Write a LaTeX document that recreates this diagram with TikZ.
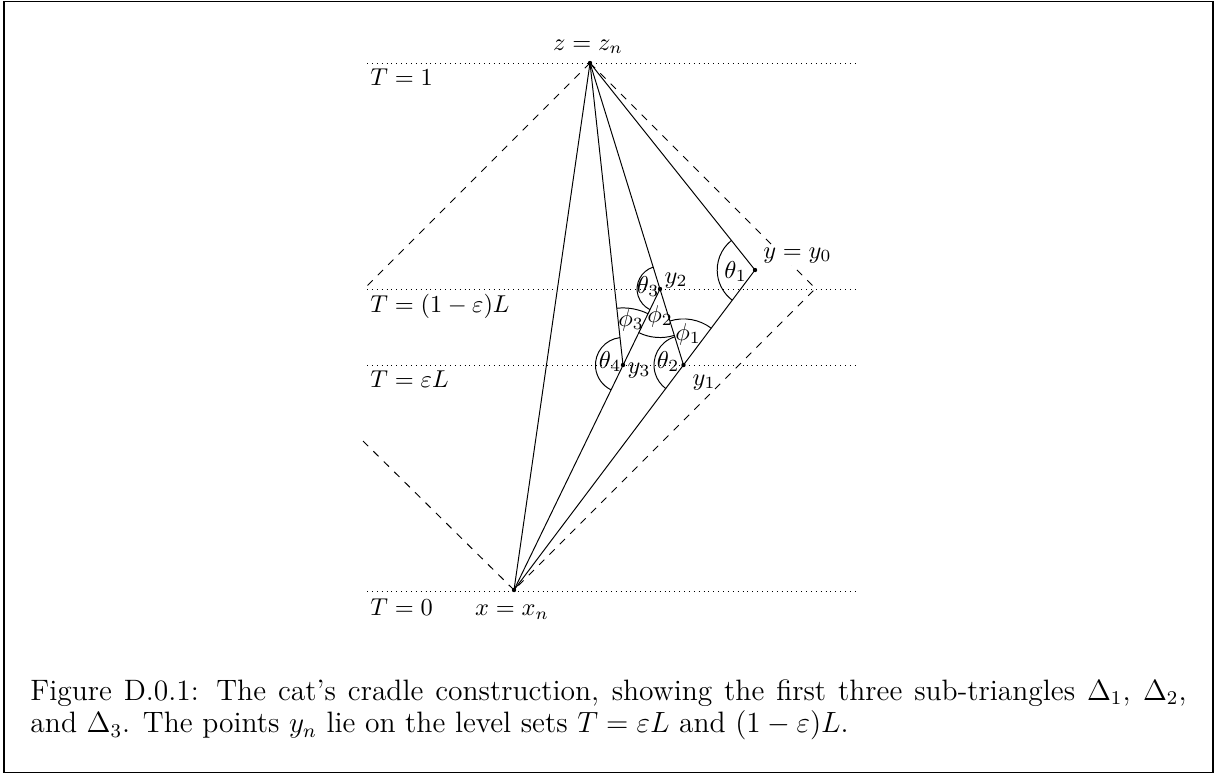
\documentclass[tikz,border=0pt]{standalone}
\usetikzlibrary{angles}
\begin{document}
\begin{tikzpicture}[x=0.41pt,y=-0.41pt,
  level/.style={dash pattern=on 0.4pt off 1.6pt},
  cone/.style={dashed},
  lab/.style={inner sep=0pt, anchor=base},
  tlab/.style={inner sep=0pt, anchor=base west},
  ang/.style={draw, angle radius=#1}]
\useasboundingbox (0,0) rectangle (1218,774);
\draw[line width=0.8pt] (4,1.5) rectangle (1213,772.5);
% points
\coordinate (z) at (590,63);
\coordinate (x) at (514,590);
\coordinate (y0) at (755,270);
\coordinate (y1) at (683.5,365);
\coordinate (y2) at (660,289);
\coordinate (y3) at (623,365);
\coordinate (c) at (815.5,288.5);
\coordinate (cl1) at (367,286);
\coordinate (cl2) at (363,441);
% level sets
\draw[level] (367,63) -- (855,63);
\draw[level] (367,289) -- (855,289);
\draw[level] (367,365) -- (855,365);
\draw[level] (367,591) -- (855,591);
\node[tlab] (t1) at (370,85.7) {$T = 1$};
\node[tlab] (t2) at (370,312) {$T = (1-\varepsilon)L$};
\node[tlab] (t3) at (370,387.5) {$T = \varepsilon L$};
\node[tlab] (t4) at (370,615.7) {$T = 0$};
% light cones
\draw[cone] (z) -- (c) -- (x);
\draw[cone] (z) -- (cl1);
\draw[cone] (x) -- (cl2);
% construction lines
\draw (z) -- (x);
\draw (z) -- (y0) -- (x);
\draw (z) -- (y1);
\draw (y2) -- (x);
\draw (z) -- (y3);
% angles
\pic[ang=15.5pt] {angle = z--y0--x};
\pic[ang=9.4pt] {angle = z--y2--x};
\pic[ang=19.9pt] {angle = x--y2--y1};
\pic[ang=23.4pt] {angle = y2--y3--z};
\pic[ang=18.9pt] {angle = y0--y1--y2};
\pic[ang=12.1pt] {angle = y2--y1--x};
\pic[ang=11.3pt] {angle = z--y3--x};
% dots
\foreach \p in {z,x,y0,y1,y2,y3} \fill (\p) circle (0.9pt);
% labels
\node[lab] (lz) at (588,50) {$z = z_n$};
\node[lab] (lx) at (512,615.7) {$x = x_n$};
\node[lab, fill=white, inner sep=1pt] (ly0) at (797.5,258) {$y = y_0$};
\node[lab] (ly1) at (704,385) {$y_1$};
\node[lab] (ly2) at (676,283) {$y_2$};
\node[lab] (ly3) at (639,373) {$y_3$};
\node[lab] (th1) at (735.5,278) {$\theta_1$};
\node[lab] (th2) at (668,368) {$\theta_2$};
\node[lab] (th3) at (648,293) {$\theta_3$};
\node[lab] (th4) at (610,368) {$\theta_4$};
\node[lab] (ph1) at (688,340) {$\phi_1$};
\node[lab] (ph2) at (660,322) {$\phi_2$};
\node[lab] (ph3) at (631,326) {$\phi_3$};
% caption
\node[inner sep=0pt, anchor=base west] (cap) at (30,700) {\parbox[t]{474pt}{\fontsize{12.1pt}{13.5pt}\selectfont
Figure D.0.1: The cat's cradle construction, showing the first three sub-triangles $\Delta_1$, $\Delta_2$,\linebreak
and $\Delta_3$. The points $y_n$ lie on the level sets $T = \varepsilon L$ and $(1-\varepsilon)L$.}};
\end{tikzpicture}
\end{document}
